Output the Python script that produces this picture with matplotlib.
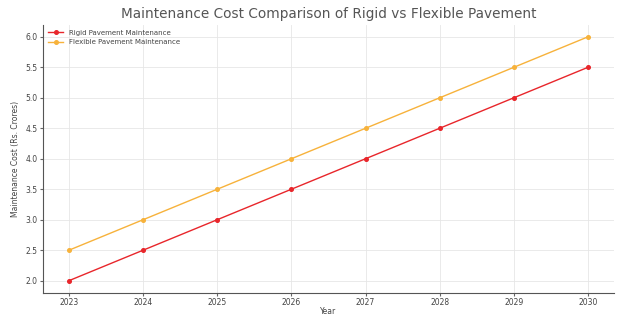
import matplotlib.pyplot as plt

years = [2023, 2024, 2025, 2026, 2027, 2028, 2029, 2030]
rigid_cost = [2.0, 2.5, 3.0, 3.5, 4.0, 4.5, 5.0, 5.5]
flexible_cost = [2.5, 3.0, 3.5, 4.0, 4.5, 5.0, 5.5, 6.0]


def main():
    fig = plt.figure(figsize=(6.17, 3.2), dpi=100)
    ax = fig.add_axes([0.07, 0.085, 0.925, 0.838])

    ax.plot(years, rigid_cost, color="#e8262b", marker="o", markersize=2.6,
            lw=1.0, label="Rigid Pavement Maintenance")
    ax.plot(years, flexible_cost, color="#f7b23b", marker="o", markersize=2.6,
            lw=1.0, label="Flexible Pavement Maintenance")

    ax.set_xticks(years)
    ax.set_yticks([2.0, 2.5, 3.0, 3.5, 4.0, 4.5, 5.0, 5.5, 6.0])
    ax.tick_params(labelsize=5.5, length=2, pad=2, color="#666666", labelcolor="#444444")
    ax.set_title("Maintenance Cost Comparison of Rigid vs Flexible Pavement",
                 fontsize=9.8, color="#555555", pad=5)
    ax.set_xlabel("Year", fontsize=5.5, color="#444444", labelpad=0)
    ax.set_ylabel("Maintenance Cost (Rs. Crores)", fontsize=5.5, color="#444444")
    ax.grid(color="#e6e6e6", lw=0.6)
    ax.spines["top"].set_visible(False)
    ax.spines["right"].set_visible(False)
    for s in ("left", "bottom"):
        ax.spines[s].set_color("#555555")
        ax.spines[s].set_linewidth(0.8)
    ax.legend(loc="upper left", fontsize=5, frameon=False, handlelength=2.2,
              borderaxespad=0.3, labelcolor="#444444")

    fig.savefig("out.png", dpi=100)
    plt.close(fig)


if __name__ == "__main__":
    main()
